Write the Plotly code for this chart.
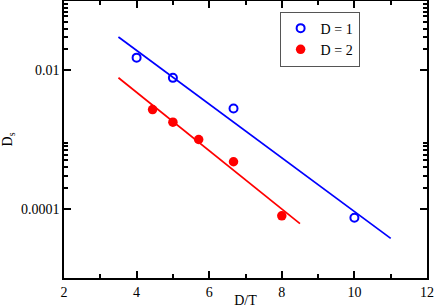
import plotly.graph_objects as go

# Data
d1_x = [4.0, 5.0, 6.67, 10.0]
d1_y = [0.0152, 0.00777, 0.0028, 7.4e-5]
d2_x = [4.44, 5.0, 5.71, 6.67, 8.0]
d2_y = [0.00271, 0.00178, 0.00100, 4.77e-4, 7.9e-5]

fit1_x = [3.5, 11.0]
fit1_y = [0.0302, 3.73e-5]
fit2_x = [3.5, 8.5]
fit2_y = [0.0078, 6.08e-5]

y_major = [1e-4, 1e-2]
y_major_text = ["0.0001", "0.01"]
y_minor = [k * 1e-4 for k in range(2, 10)] + [k * 1e-2 for k in range(2, 10)]

FONT = "Liberation Serif"

fig = go.Figure()
fig.add_trace(go.Scatter(x=fit1_x, y=fit1_y, mode="lines",
                         line=dict(color="#0000ff", width=1.7), showlegend=False))
fig.add_trace(go.Scatter(x=fit2_x, y=fit2_y, mode="lines",
                         line=dict(color="#ff0000", width=1.7), showlegend=False))
fig.add_trace(go.Scatter(x=d1_x, y=d1_y, mode="markers", name="D = 1",
                         marker=dict(symbol="circle-open", size=8, color="#0000ff",
                                     line=dict(width=2, color="#0000ff"))))
fig.add_trace(go.Scatter(x=d2_x, y=d2_y, mode="markers", name="D = 2",
                         marker=dict(symbol="circle", size=9.5, color="#ff0000")))

axis_common = dict(showgrid=False, zeroline=False, showline=True, linecolor="black",
                   linewidth=1.5, mirror="ticks", ticks="inside", tickcolor="black",
                   tickwidth=1.5, ticklen=7,
                   tickfont=dict(family=FONT, size=14, color="black"))

fig.update_xaxes(range=[2, 12], tickmode="linear", tick0=2, dtick=2,
                 minor=dict(ticks="inside", dtick=1, ticklen=4, tickcolor="black", tickwidth=1.5),
                 title=dict(text="D/T", font=dict(family=FONT, size=14, color="black"), standoff=2),
                 automargin=False, **axis_common)
fig.update_yaxes(type="log", range=[-5, -1], tickmode="array", tickvals=y_major,
                 ticktext=y_major_text,
                 minor=dict(ticks="inside", tickmode="array", tickvals=y_minor, ticklen=4,
                            tickcolor="black", tickwidth=1.5),
                 title=dict(text="D<sub>s</sub>", font=dict(family=FONT, size=14, color="black"), standoff=12),
                 automargin=False, **axis_common)

fig.update_layout(
    width=436, height=308,
    margin=dict(l=64, r=9, t=1, b=30),
    paper_bgcolor="white", plot_bgcolor="white",
    font=dict(family=FONT, size=14, color="black"),
    legend=dict(x=0.594, y=0.962, xanchor="left", yanchor="top",
                bordercolor="#555555", borderwidth=1, bgcolor="white",
                font=dict(family=FONT, size=14, color="black"),
                itemwidth=30, tracegroupgap=0),
)

fig.write_html("out.html", config={"displayModeBar": False},
               post_script="document.body.style.margin='0';document.body.style.overflow='hidden';")
